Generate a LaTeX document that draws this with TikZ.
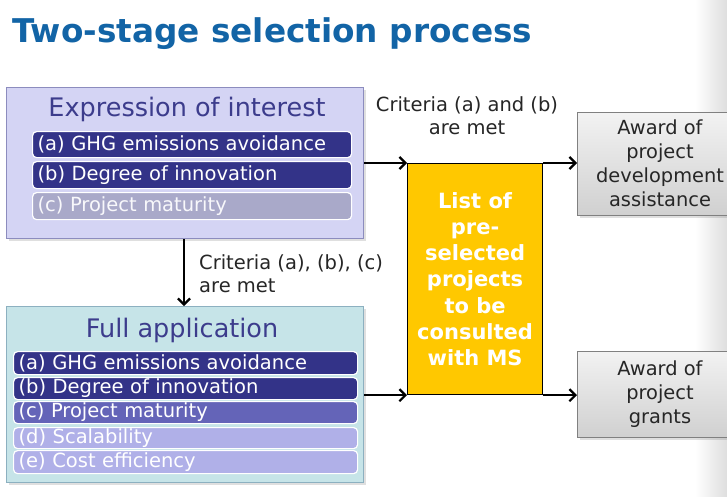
\documentclass[tikz,border=0pt]{standalone}
\usepackage{fontspec}
\setmainfont{DejaVu Sans}
\usetikzlibrary{arrows.meta,shadows}
\definecolor{titleblue}{RGB}{18,100,166}
\definecolor{eoifill}{RGB}{212,212,244}
\definecolor{eoiborder}{RGB}{140,140,190}
\definecolor{stagetext}{RGB}{60,60,140}
\definecolor{darkbar}{RGB}{51,51,136}
\definecolor{graybar}{RGB}{169,169,201}
\definecolor{midbar}{RGB}{100,100,184}
\definecolor{lightbar}{RGB}{176,176,232}
\definecolor{fafill}{RGB}{198,228,232}
\definecolor{faborder}{RGB}{140,176,192}
\definecolor{listyellow}{RGB}{255,200,0}
\definecolor{awardtop}{RGB}{242,242,242}
\definecolor{awardbottom}{RGB}{208,208,208}
\definecolor{awardborder}{RGB}{128,128,128}
\begin{document}
\begin{tikzpicture}[x=1pt,y=-1pt,
  stagebox/.style={draw, line width=1.2pt, anchor=north west, inner sep=0pt,
    drop shadow={opacity=0.25, shadow xshift=2pt, shadow yshift=-2pt}},
  stagetitle/.style={anchor=base, inner sep=0pt, text=stagetext, font=\fontsize{25.5}{25.5}\selectfont},
  critbar/.style={draw=white, line width=1.2pt, rounded corners=4pt, anchor=north west,
    inner xsep=5pt, inner ysep=0pt, align=left, text=white,
    font=\fontsize{19.5}{19.5}\selectfont},
  awardbox/.style={draw=awardborder, line width=1pt, anchor=north west, inner sep=0pt,
    top color=awardtop, bottom color=awardbottom,
    drop shadow={opacity=0.25, shadow xshift=2pt, shadow yshift=-2pt}},
  awardtext/.style={align=center, inner sep=0pt, font=\fontsize{19.4}{24}\selectfont, text=black!85},
  crit/.style={inner sep=0pt, font=\fontsize{19.5}{23}\selectfont, text=black!85},
  flow/.style={line width=2.5pt, -{Straight Barb[length=6pt,width=12pt,line width=2.2pt]}}
]
\useasboundingbox (0,0) rectangle (727,496);
\clip (0,0) rectangle (727,496);
\fill[white] (0,0) rectangle (727,496);
\shade[left color=white, right color=black!13] (695,0) rectangle (727,496);

% title
\node[anchor=base west, inner sep=0pt, text=titleblue,
  font=\fontsize{32.7}{33}\selectfont\bfseries] (title) at (12,42) {Two-stage selection process};

% expression of interest
\node[stagebox, fill=eoifill, draw=eoiborder, minimum width=357pt, minimum height=151pt] (eoi) at (6,87) {};
\node[stagetitle] (eoit) at (187,116) {Expression of interest};
\node[critbar, fill=darkbar, minimum height=26pt, text width=309pt] (ea) at (32,131) {(a) GHG emissions avoidance};
\node[critbar, fill=darkbar, minimum height=27pt, text width=309pt] (eb) at (32,161) {(b) Degree of innovation};
\node[critbar, fill=graybar, minimum height=27pt, text width=309pt, text=white!92!graybar] (ec) at (32,192) {(c) Project maturity};

% full application
\node[stagebox, fill=fafill, draw=faborder, minimum width=357pt, minimum height=176pt] (fa) at (6,306) {};
\node[stagetitle] (fat) at (182,337) {Full application};
\node[critbar, fill=darkbar, minimum height=23pt, text width=334pt] (fa1) at (13,351) {(a) GHG emissions avoidance};
\node[critbar, fill=darkbar, minimum height=22pt, text width=334pt] (fa2) at (13,377) {(b) Degree of innovation};
\node[critbar, fill=midbar, minimum height=22pt, text width=334pt] (fa3) at (13,401) {(c) Project maturity};
\node[critbar, fill=lightbar, minimum height=21pt, text width=334pt] (fa4) at (13,427) {(d) Scalability};
\node[critbar, fill=lightbar, minimum height=23pt, text width=334pt] (fa5) at (13,450) {(e) Cost efficiency};

% list box
\node[draw=black, line width=1.2pt, fill=listyellow, anchor=north west, inner sep=0pt,
  minimum width=135pt, minimum height=231pt, align=center, text=white,
  font=\fontsize{21}{26.3}\selectfont\bfseries] (list) at (407,163)
  {List of\\pre-\\selected\\projects\\to be\\consulted\\with MS};

% award boxes
\node[awardbox, minimum width=170pt, minimum height=103pt] (aw1) at (577,112) {};
\node[awardtext] (aw1t) at (660,163.5) {Award of\\project\\development\\assistance};
\node[awardbox, minimum width=170pt, minimum height=86pt] (aw2) at (577,351) {};
\node[awardtext] (aw2t) at (660,394) {Award of\\project\\grants};

% labels
\node[crit, align=center] (lab1) at (467,116) {Criteria (a) and (b)\\are met};
\node[crit, align=left, anchor=west] (lab2) at (199,273.5) {Criteria (a), (b), (c)\\are met};

% connectors
\draw[flow] (eoi.east |- list.north west) -- (list.north west);
\draw[flow] (list.north east) -- (aw1.west |- list.north east);
\draw[flow] (fa.east |- list.south west) -- (list.south west);
\draw[flow] (list.south east) -- (aw2.west |- list.south east);
\draw[flow] (eoi.south -| 184,0) -- (fa.north -| 184,0);
\end{tikzpicture}
\end{document}
